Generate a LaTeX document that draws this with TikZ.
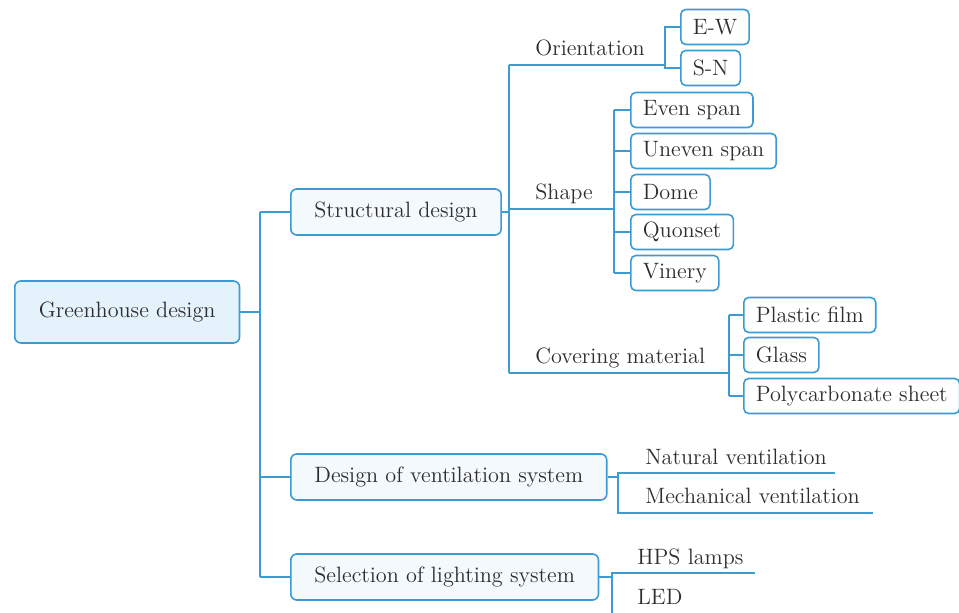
\documentclass[tikz,border=0pt]{standalone}
\usetikzlibrary{positioning}
\definecolor{lineblue}{HTML}{3D9BD3}
\definecolor{rootfill}{HTML}{E4F2FC}
\definecolor{groupfill}{HTML}{F3F9FD}
\definecolor{textgray}{HTML}{2E2E2E}
\tikzset{
  box/.style={draw=lineblue, line width=0.8pt, rounded corners=3pt, text=textgray, anchor=west, inner ysep=0pt},
  rootbox/.style={box, fill=rootfill, inner xsep=12pt, minimum height=31pt},
  groupbox/.style={box, fill=groupfill, inner xsep=11.8pt, minimum height=23pt},
  leafbox/.style={box, fill=white, inner xsep=6pt, minimum height=17.5pt, rounded corners=2.5pt},
  branch/.style={text=textgray, anchor=base west, inner sep=0pt},
  link/.style={draw=lineblue, line width=0.8pt},
}
\begin{document}
\begin{tikzpicture}[x=0.5pt, y=-0.5pt, font=\fontsize{11.1}{13}\selectfont]
		\useasboundingbox (0,0) rectangle (959,613);
		\clip (0,0) rectangle (959,613);
		
		% Root and main branches
		\node[rootbox] (root) at (14,312) {Greenhouse design};
		\node[groupbox] (struct) at (290,212) {Structural design};
		\node[groupbox] (vent) at (290,477) {Design of ventilation system};
		\node[groupbox] (light) at (290,577) {Selection of lighting system};
		
		\coordinate (trunk) at (260,312);
		\draw[link] (root.east) -- (trunk);
		\draw[link] (trunk |- struct.west) -- (trunk |- light.west);
		\foreach \n in {struct, vent, light}
			\draw[link] (trunk |- \n.west) -- (\n.west);
		
		% Structural design
		\coordinate (strunk) at (509,212);
		\coordinate (orient) at (665,65);
		\coordinate (shape) at (614,209);
		\coordinate (cover) at (729,373);
		\draw[link] (struct.east) -- (strunk);
		\draw[link] (strunk |- orient) -- (strunk |- cover);
		\foreach \c in {orient, shape, cover}
			\draw[link] (strunk |- \c) -- (\c);
		\node[branch] (orientlbl) at (535,56) {Orientation};
		\node[branch] (shapelbl) at (535,200) {Shape};
		\node[branch] (coverlbl) at (535,364) {Covering material};
		
		% Orientation
		\node[leafbox] (ew) at (680,27) {E-W};
		\node[leafbox] (sn) at (680,68) {S-N};
		\draw[link] (ew.west) -| (orient) -- (orient |- sn.west) -- (sn.west);
		
		% Shape
		\foreach \name/\y/\txt in {even/110/Even span, uneven/151/Uneven span, dome/192/Dome, quonset/232/Quonset, vinery/273/Vinery}
			\node[leafbox] (\name) at (630,\y) {\txt};
		\draw[link] (shape |- even.west) -- (shape |- vinery.west);
		\foreach \name in {even, uneven, dome, quonset, vinery}
			\draw[link] (shape |- \name.west) -- (\name.west);
		
		% Covering material
		\foreach \name/\y/\txt in {film/315/Plastic film, glass/355/Glass, poly/396/Polycarbonate sheet}
			\node[leafbox] (\name) at (743,\y) {\txt};
		\draw[link] (cover |- film.west) -- (cover |- poly.west);
		\foreach \name in {film, glass, poly}
			\draw[link] (cover |- \name.west) -- (\name.west);
		
		% Ventilation
		\coordinate (vbr) at (618,477);
		\coordinate (natend) at (835,473);
		\coordinate (mechend) at (873,513);
		\draw[link] (vent.east) -- (vbr);
		\draw[link] (natend) -- (vbr |- natend) -- (vbr |- mechend) -- (mechend);
		\node[branch] (natural) at (645,465) {Natural ventilation};
		\node[branch] (mech) at (645,504) {Mechanical ventilation};
		
		% Lighting
		\coordinate (lbr) at (612,577);
		\coordinate (hpsend) at (755,573);
		\coordinate (ledend) at (700,616);
		\draw[link] (light.east) -- (lbr);
		\draw[link] (hpsend) -- (lbr |- hpsend) -- (lbr |- ledend) -- (ledend);
		\node[branch] (hps) at (637,565) {HPS lamps};
		\node[branch] (led) at (637,605) {LED};
	\end{tikzpicture}
\end{document}
